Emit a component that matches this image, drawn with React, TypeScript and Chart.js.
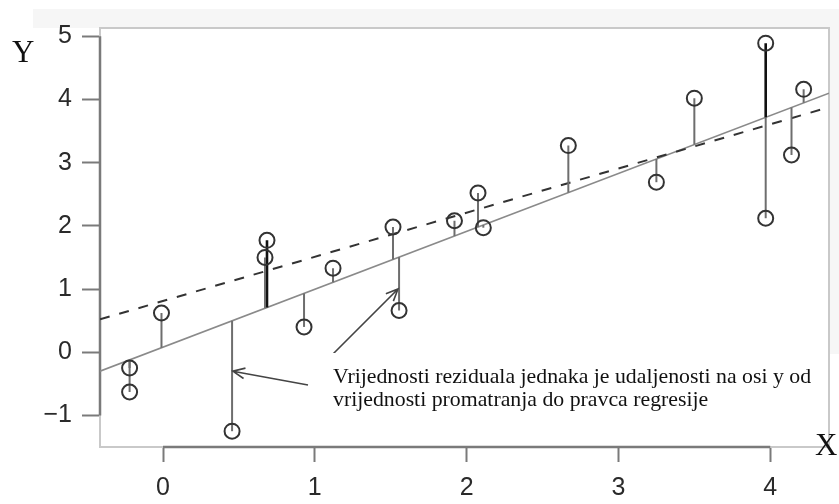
import { useEffect, useRef } from "react";
import { Chart, registerables } from "chart.js";

Chart.register(...registerables);

// ---- data ----
const obsX = [-0.22, -0.22, -0.01, 0.455, 0.672, 0.685, 0.929, 1.12, 1.515, 1.555, 1.92, 2.075, 2.11, 2.67, 3.25, 3.5, 3.97, 3.97, 4.14, 4.22];
const obsY = [-0.25, -0.63, 0.62, -1.25, 1.5, 1.77, 0.4, 1.33, 1.98, 0.66, 2.08, 2.52, 1.97, 3.27, 2.69, 4.02, 4.89, 2.12, 3.12, 4.16];
const fitLine = { intercept: 0.08, slope: 0.916 }; // solid regression line
const trueLine = { intercept: 0.81, slope: 0.699 }; // dashed line
const xTicks = [0, 1, 2, 3, 4];
const yTicks = [-1, 0, 1, 2, 3, 4, 5];
const xRange = [-0.415, 4.387];
const yRange = [-1.5, 5.13];
const noteLines = [
  "Vrijednosti reziduala jednaka je udaljenosti na osi y od",
  "vrijednosti promatranja do pravca regresije",
];
const arrowTargets = [
  { x: 0.46, y: -0.3 },
  { x: 1.548, y: 1.0 },
];
const xLabel = "X";
const yLabel = "Y";
const darkResiduals = [5, 16];

const W = 839;
const H = 504;

const fit = (l: { intercept: number; slope: number }, x: number) => l.intercept + l.slope * x;

function drawArrow(ctx: CanvasRenderingContext2D, x0: number, y0: number, x1: number, y1: number) {
  const ang = Math.atan2(y1 - y0, x1 - x0);
  const len = 13;
  const spread = 0.42;
  ctx.beginPath();
  ctx.moveTo(x0, y0);
  ctx.lineTo(x1, y1);
  ctx.moveTo(x1 - len * Math.cos(ang - spread), y1 - len * Math.sin(ang - spread));
  ctx.lineTo(x1, y1);
  ctx.lineTo(x1 - len * Math.cos(ang + spread), y1 - len * Math.sin(ang + spread));
  ctx.stroke();
}

const decor = {
  id: "decor",
  beforeDraw(chart: any) {
    const { ctx, chartArea: a } = chart;
    ctx.save();
    ctx.fillStyle = "#ffffff";
    ctx.fillRect(0, 0, W, H);
    ctx.fillStyle = "#f6f6f6";
    ctx.fillRect(33, 9, W - 33, a.top - 9);
    ctx.fillRect(a.right, 9, W - a.right, 345);
    ctx.fillStyle = "#ffffff";
    ctx.fillRect(a.left, a.top, a.right - a.left, a.bottom - a.top);
    ctx.restore();
  },
  beforeDatasetsDraw(chart: any) {
    const { ctx, chartArea: a, scales } = chart;
    const xs = scales.x;
    const ys = scales.y;
    ctx.save();
    // light box
    ctx.strokeStyle = "#c9c9c9";
    ctx.lineWidth = 2;
    ctx.strokeRect(a.left, a.top, a.right - a.left, a.bottom - a.top);
    // axis lines
    ctx.strokeStyle = "#7a7a7a";
    ctx.lineWidth = 2.5;
    ctx.beginPath();
    ctx.moveTo(a.left, ys.getPixelForValue(yTicks[yTicks.length - 1]));
    ctx.lineTo(a.left, ys.getPixelForValue(yTicks[0]));
    ctx.moveTo(xs.getPixelForValue(xTicks[0]), a.bottom);
    ctx.lineTo(xs.getPixelForValue(xTicks[xTicks.length - 1]), a.bottom);
    ctx.stroke();
    ctx.restore();
  },
  afterDraw(chart: any) {
    const { ctx, scales } = chart;
    const xs = scales.x;
    const ys = scales.y;
    ctx.save();
    // arrows
    ctx.strokeStyle = "#444";
    ctx.lineWidth = 1.6;
    drawArrow(ctx, 308, 385, xs.getPixelForValue(arrowTargets[0].x), ys.getPixelForValue(arrowTargets[0].y));
    drawArrow(ctx, 322, 365, xs.getPixelForValue(arrowTargets[1].x), ys.getPixelForValue(arrowTargets[1].y));
    // white note box
    ctx.fillStyle = "#ffffff";
    ctx.fillRect(312, 353, 514, 76);
    // note text
    ctx.fillStyle = "#111";
    ctx.font = "21.8px 'Liberation Serif', 'Times New Roman', serif";
    ctx.textBaseline = "alphabetic";
    ctx.textAlign = "left";
    ctx.fillText(noteLines[0], 333, 383);
    ctx.fillText(noteLines[1], 333, 406);
    // axis letters
    ctx.font = "31px 'Liberation Serif', 'Times New Roman', serif";
    ctx.fillText(yLabel, 12, 62);
    ctx.fillText(xLabel, 815, 455);
    ctx.restore();
  },
};

export default function App() {
  const ref = useRef<HTMLCanvasElement | null>(null);

  useEffect(() => {
    if (!ref.current) return;

    const residuals = obsX.map((x, i) => ({
      type: "scatter" as const,
      showLine: true,
      data: [
        { x, y: obsY[i] },
        { x, y: fit(fitLine, x) },
      ],
      borderColor: darkResiduals.includes(i) ? "#111" : "#6e6e6e",
      borderWidth: darkResiduals.includes(i) ? 2.6 : 2,
      pointRadius: 0,
      pointHoverRadius: 0,
      fill: false,
    }));

    const tickFont = { family: "'Liberation Sans', Arial, sans-serif", size: 25 };

    const chart = new Chart(ref.current, {
      type: "scatter",
      data: {
        datasets: [
          {
            data: obsX.map((x, i) => ({ x, y: obsY[i] })),
            pointRadius: 7.5,
            pointHoverRadius: 7.5,
            pointBorderWidth: 2,
            pointBorderColor: "#333",
            pointBackgroundColor: "rgba(0,0,0,0)",
            showLine: false,
          },
          ...residuals,
          {
            showLine: true,
            data: xRange.map((x) => ({ x, y: fit(trueLine, x) })),
            borderColor: "#333",
            borderWidth: 2,
            borderDash: [10, 10],
            pointRadius: 0,
            pointHoverRadius: 0,
          },
          {
            showLine: true,
            data: xRange.map((x) => ({ x, y: fit(fitLine, x) })),
            borderColor: "#8a8a8a",
            borderWidth: 1.6,
            pointRadius: 0,
            pointHoverRadius: 0,
          },
        ] as any,
      },
      options: {
        responsive: false,
        animation: false,
        events: [],
        layout: { padding: { left: 0, top: 28, right: 10, bottom: 0 } },
        plugins: { legend: { display: false }, tooltip: { enabled: false } },
        scales: {
          x: {
            type: "linear",
            min: xRange[0],
            max: xRange[1],
            afterBuildTicks: (s: any) => {
              s.ticks = xTicks.map((v) => ({ value: v }));
            },
            afterFit: (s: any) => {
              s.height = 57;
            },
            grid: {
              display: true,
              drawOnChartArea: false,
              drawTicks: true,
              tickLength: 15,
              tickColor: "#7a7a7a",
              tickWidth: 2,
            },
            border: { display: false },
            ticks: {
              autoSkip: false,
              maxRotation: 0,
              padding: 11,
              color: "#2a2a2a",
              font: tickFont,
              callback: (v: any) => String(v).replace("-", "\u2212"),
            },
          },
          y: {
            type: "linear",
            min: yRange[0],
            max: yRange[1],
            afterBuildTicks: (s: any) => {
              s.ticks = yTicks.map((v) => ({ value: v }));
            },
            afterFit: (s: any) => {
              s.width = 100;
            },
            grid: {
              display: true,
              drawOnChartArea: false,
              drawTicks: true,
              tickLength: 18,
              tickColor: "#7a7a7a",
              tickWidth: 2,
            },
            border: { display: false },
            ticks: {
              autoSkip: false,
              padding: 10,
              color: "#2a2a2a",
              font: tickFont,
              callback: (v: any) => String(v).replace("-", "\u2212"),
            },
          },
        },
      },
      plugins: [decor],
    });

    return () => chart.destroy();
  }, []);

  return (
    <div style={{ position: "absolute", left: 0, top: 0, width: W, height: H }}>
      <canvas ref={ref} width={W} height={H} style={{ width: W, height: H, display: "block" }} />
    </div>
  );
}
